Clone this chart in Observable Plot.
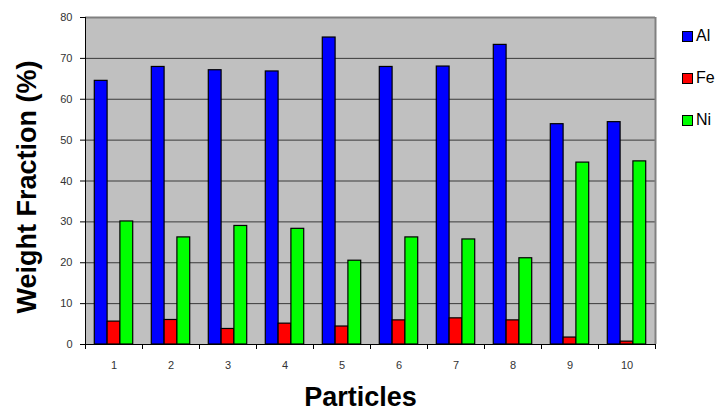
<!DOCTYPE html>
<html>
<head>
<meta charset="utf-8">
<script src="https://cdn.jsdelivr.net/npm/d3@7"></script>
<script src="https://cdn.jsdelivr.net/npm/@observablehq/plot@0.6"></script>
<style>
  html, body { margin: 0; padding: 0; background: #fff; }
  #wrap { position: relative; width: 716px; height: 411px; font-family: "Liberation Sans", Arial, sans-serif; }
  #legend { position: absolute; left: 682px; top: 15px; }
  .item { display: flex; align-items: center; height: 42px; }
  .sw { width: 9px; height: 9px; border: 1px solid #000; margin-right: 3px; }
  .lab { font-size: 16px; color: #000; }
</style>
</head>
<body>
<div id="wrap"><div id="legend"></div></div>
<script>
const particles = [1, 2, 3, 4, 5, 6, 7, 8, 9, 10];
const al = [64.5, 67.9, 67.1, 66.8, 75.1, 67.9, 68.0, 73.3, 53.9, 54.4];
const fe = [5.6, 6.0, 3.8, 5.1, 4.4, 5.9, 6.4, 5.9, 1.7, 0.7];
const ni = [30.1, 26.2, 29.0, 28.3, 20.5, 26.2, 25.7, 21.1, 44.5, 44.8];
const series = ["Al", "Fe", "Ni"];
const colors = ["#0000ff", "#ff0000", "#00ff00"];
const yTicks = [0, 10, 20, 30, 40, 50, 60, 70, 80];

const values = [al, fe, ni];
const rows = particles.flatMap((p, i) => series.map((s, k) => ({p, k, s, v: values[k][i]})));
const groupFrac = 0.674;
const barFrac = groupFrac / series.length;
const boundaries = particles.map(p => p - 0.5).concat(particles[particles.length - 1] + 0.5);

const chart = Plot.plot({
  width: 716,
  height: 411,
  marginLeft: 85,
  marginRight: 61,
  marginTop: 17,
  marginBottom: 67,
  style: {fontFamily: "'Liberation Sans', Arial, sans-serif", background: "transparent"},
  x: {type: "linear", domain: [0.5, 10.5]},
  y: {domain: [0, 80]},
  color: {domain: series, range: colors},
  marks: [
    Plot.frame({fill: "#c0c0c0", stroke: null}),
    Plot.ruleY(yTicks.slice(1, -1), {stroke: "#3a3a3a", strokeWidth: 1}),
    Plot.ruleY([80], {stroke: "#808080", strokeWidth: 2}),
    Plot.ruleX([10.5], {stroke: "#808080", strokeWidth: 2}),
    Plot.rect(rows, {
      x1: d => d.p - groupFrac / 2 + d.k * barFrac,
      x2: d => d.p - groupFrac / 2 + (d.k + 1) * barFrac,
      y1: 0,
      y2: "v",
      fill: "s",
      stroke: "black",
      strokeWidth: 1.2
    }),
    Plot.ruleX([0.5], {stroke: "black"}),
    Plot.ruleY([0], {stroke: "black"}),
    Plot.axisY(yTicks, {tickSize: 5, tickPadding: 8, fontSize: 11, label: null, fill: "#333", stroke: "black"}),
    Plot.axisX(particles, {tickSize: 0, tickPadding: 17, fontSize: 11, label: null, fill: "#333", tickFormat: d => String(d)}),
    Plot.axisX(boundaries, {tickSize: 5, tickFormat: () => "", label: null, stroke: "black"}),
    Plot.text(["Weight Fraction (%)"], {frameAnchor: "left", textAnchor: "middle", rotate: -90, dx: -50, dy: 6, lineAnchor: "bottom", fontSize: 27, fontWeight: "bold", fill: "black"}),
    Plot.text(["Particles"], {frameAnchor: "bottom", dx: -10, dy: 61, lineAnchor: "bottom", fontSize: 27, fontWeight: "bold", fill: "black"})
  ]
});
document.getElementById("wrap").prepend(chart);

const legend = document.getElementById("legend");
series.forEach((s, k) => {
  const item = document.createElement("div");
  item.className = "item";
  const sw = document.createElement("div");
  sw.className = "sw";
  sw.style.background = colors[k];
  const lab = document.createElement("span");
  lab.className = "lab";
  lab.textContent = s;
  item.append(sw, lab);
  legend.append(item);
});
</script>
</body>
</html>
